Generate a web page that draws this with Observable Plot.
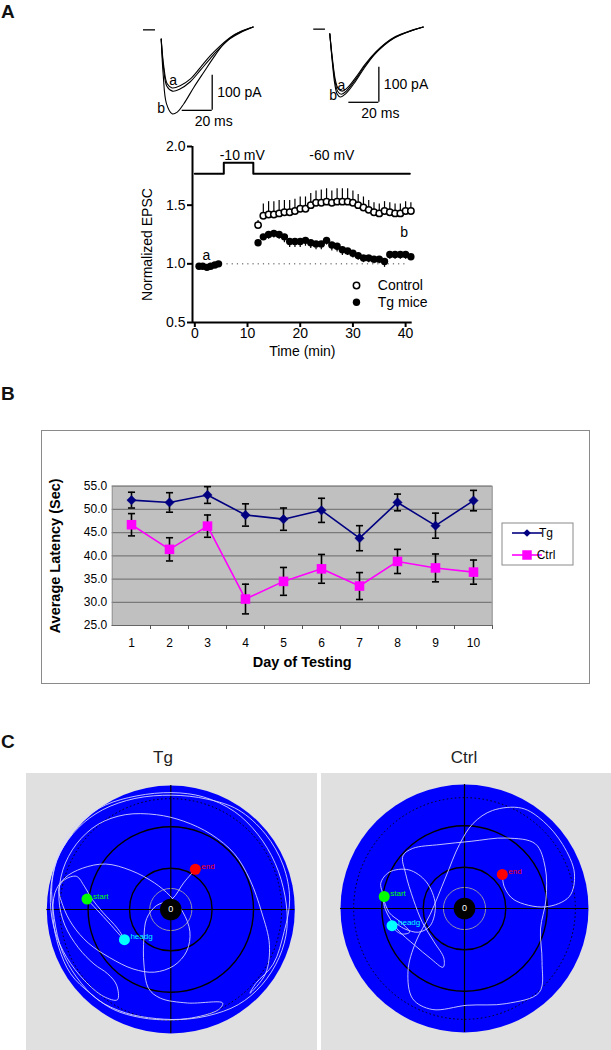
<!DOCTYPE html>
<html>
<head>
<meta charset="utf-8">
<script src="https://cdn.jsdelivr.net/npm/d3@7"></script>
<script src="https://cdn.jsdelivr.net/npm/@observablehq/plot@0.6"></script>
<style>
html,body{margin:0;padding:0;background:#fff;}
#root{position:relative;width:611px;height:1050px;overflow:hidden;font-family:"Liberation Sans",Arial,sans-serif;}
.plabel{position:absolute;font-weight:bold;font-size:19px;line-height:1;color:#111;}
.ptitle{position:absolute;font-size:17px;line-height:1;color:#222;transform:translateX(-50%);}
</style>
</head>
<body>
<div id="root">
  <div class="plabel" style="left:1px;top:2px">A</div>
  <div class="plabel" style="left:1px;top:384px">B</div>
  <div class="plabel" style="left:1px;top:732px">C</div>
  <div class="ptitle" style="left:163px;top:749px">Tg</div>
  <div class="ptitle" style="left:464px;top:749px">Ctrl</div>
</div>
<script>
// ================= DATA =================
// Panel A, example EPSC traces: [time (ms), current (pA)]
const ctrlTraceA  = [[0,-27],[1.8,-108],[4.0,-155],[7.3,-167],[12.9,-160],[19.5,-141],[26.2,-108],[32.9,-74],[39.5,-46],[46.2,-22],[52.9,-6],[61.3,7]];
const ctrlTraceA2 = [[0,-27],[1.6,-112],[3.8,-162],[7.5,-176],[12.5,-170],[19.2,-150],[26.0,-117],[32.7,-83],[39.3,-52],[46.0,-26],[52.7,-9],[61.3,7]];
const ctrlTraceB  = [[0,-27],[1.3,-127],[3.5,-212],[7.3,-241],[10.7,-236],[15.1,-212],[21.8,-165],[28.4,-122],[35.1,-79],[41.7,-41],[48.4,-17],[55.1,-3],[61.3,7]];
const tgTraceA  = [[0,-12],[1.8,-85],[3.8,-146],[5.6,-169],[8.3,-176],[11.6,-167],[17.1,-138],[23.8,-98],[30.5,-65],[37.1,-39],[43.8,-20],[52.7,-5],[62.3,7]];
const tgTraceA2 = [[0,-12],[1.7,-88],[3.6,-150],[5.3,-177],[7.7,-185],[11.0,-176],[16.5,-147],[23.2,-105],[29.9,-70],[36.5,-43],[43.2,-23],[52.1,-7],[62.3,7]];
const tgTraceB  = [[0,-12],[1.6,-89],[3.3,-155],[4.9,-184],[7.1,-193],[10.5,-184],[16.0,-155],[22.7,-112],[29.3,-74],[36.0,-46],[42.7,-25],[51.6,-8],[62.3,7]];
const scaleBarMs = 20;
const scaleBarPA = 100;

// Panel A, normalized EPSC time course
const baseTime  = [0.8,1.5,2.3,3.0,3.8,4.5];
const baseTg    = [0.98,0.98,0.97,0.98,0.99,1.00];
const baseTgSEM = [0.01,0.01,0.01,0.01,0.01,0.01];
const postTime  = [12,13,14,15,16,17,18,19,20,21,22,23,24,25,26,27,28,29,30,31,32,33,34,35,36,37,38,39,40,41];
const ctrlEPSC  = [1.33,1.41,1.42,1.42,1.43,1.44,1.44,1.45,1.47,1.47,1.50,1.52,1.52,1.53,1.52,1.53,1.53,1.53,1.52,1.50,1.48,1.46,1.44,1.43,1.45,1.44,1.43,1.43,1.45,1.45];
const ctrlSEM   = [0.04,0.10,0.11,0.11,0.11,0.10,0.10,0.10,0.10,0.10,0.10,0.10,0.11,0.11,0.10,0.11,0.11,0.11,0.10,0.09,0.09,0.08,0.08,0.08,0.08,0.08,0.08,0.08,0.08,0.07];
const tgEPSC    = [1.18,1.23,1.25,1.26,1.25,1.23,1.19,1.19,1.19,1.20,1.18,1.17,1.17,1.20,1.16,1.15,1.12,1.11,1.09,1.07,1.05,1.05,1.04,1.04,1.02,1.08,1.08,1.08,1.08,1.06];
const tgSEM     = [0.02,0.03,0.04,0.04,0.04,0.05,0.05,0.05,0.05,0.05,0.05,0.05,0.05,0.04,0.05,0.05,0.05,0.04,0.04,0.04,0.04,0.04,0.04,0.04,0.05,0.04,0.04,0.04,0.04,0.03];
const epscTicks = [0.5,1.0,1.5,2.0];
const timeTicks = [0,10,20,30,40];
const protocolT  = [0,5.5,11.1,40.8];
const protocolMV = [-60,-10,-60,-60];

// Panel B, water maze latency
const days = [1,2,3,4,5,6,7,8,9,10];
const tgLatency     = [52.0,51.5,53.1,48.8,47.9,49.8,43.8,51.5,46.5,51.9];
const tgLatencySE   = [1.7,2.1,1.8,2.4,2.4,2.6,2.7,1.8,2.7,2.2];
const ctrlLatency   = [46.7,41.4,46.4,30.7,34.5,37.2,33.5,38.8,37.4,36.5];
const ctrlLatencySE = [2.4,2.5,2.4,3.2,3.0,3.1,2.9,2.6,3.0,2.6];
const latencyTicks  = [25,30,35,40,45,50,55];

// Panel C, swim paths (tracking camera coordinates)
const tgPoolCenter = [437,732];
const tgStart = [222,700], tgHeadg = [318,825], tgEnd = [500,608];
const tgPath = [[222,700],[270,762],[318,825],[300,790],[262,740],[235,700],[215,660],[195,630],[165,640],[150,665],[160,720],[185,780],[225,835],[280,880],[340,915],[395,925],[445,905],[478,860],[486,800],[468,740],[435,690],[395,650],[335,612],[270,592],[210,605],[165,635],[140,680],[135,760],[150,850],[180,930],[230,990],[290,1040],[360,1065],[440,1072],[530,1060],[610,1025],[670,965],[715,880],[735,790],[730,690],[705,590],[660,500],[600,430],[520,385],[440,372],[350,382],[270,410],[205,460],[160,530],[135,620],[128,710],[140,800],[170,880],[215,950],[265,1000],[300,1010],[298,965],[275,930],[240,900],[200,850],[165,780],[150,700],[160,610],[195,530],[250,470],[320,440],[400,440],[470,460],[540,500],[600,560],[640,640],[670,740],[690,840],[680,930],[640,990],[655,960],[700,900],[728,800],[742,700],[725,595],[680,500],[610,425],[530,392],[440,380],[345,390],[262,425],[200,480],[152,560],[132,650],[138,760],[158,860],[195,940],[250,1010],[320,1050],[400,1068],[480,1068],[560,1040],[570,1020],[480,1020],[410,1005],[380,975],[368,900],[368,820],[375,760],[400,720],[440,700],[470,650],[500,608]];
const ctrlPoolCenter = [1193,727];
const ctrlStart = [987,690], ctrlHeadg = [1007,780], ctrlEnd = [1290,622];
const ctrlPath = [[987,690],[978,650],[1000,615],[1050,608],[1095,645],[1118,715],[1105,780],[1075,800],[1040,790],[1010,770],[1007,780],[1030,805],[1052,800],[1030,770],[1000,740],[985,700],[990,730],[1020,790],[1065,840],[1105,880],[1138,908],[1140,880],[1115,830],[1085,770],[1062,700],[1042,620],[1035,565],[1060,542],[1130,530],[1210,520],[1300,510],[1375,528],[1400,600],[1402,700],[1388,790],[1392,890],[1385,985],[1300,1020],[1200,1025],[1110,1038],[1060,1005],[1048,920],[1068,830],[1105,745],[1145,630],[1180,530],[1215,465],[1265,425],[1340,418],[1395,458],[1445,530],[1475,618],[1462,690],[1400,722],[1320,700],[1295,660],[1290,622]];
const poolDotted = 0.894, poolRings = [0.667,0.333], poolGrayRing = 0.17, poolCenterDisk = 0.087;

// ================= DRAWING =================
const root = document.getElementById("root");
const FONT = "Liberation Sans, Arial, sans-serif";
function place(node, left, top) {
  node.style.position = "absolute";
  node.style.left = left + "px";
  node.style.top = top + "px";
  root.appendChild(node);
  return node;
}

// ---- traces ----
function tracePlot(traces, o) {
  return Plot.plot({
    width: 150, height: 130, margin: 0,
    x: {domain: [-20, 80], range: [o.x0 - 30, o.x0 + 120], axis: null},
    y: {domain: [50, -300], range: [11.5, 134], axis: null},
    style: {fontFamily: FONT, fontSize: "14px", background: "transparent", overflow: "visible", color: "black"},
    marks: [
      Plot.ruleY([0], {x1: o.base[0], x2: o.base[1], y: o.baseY, stroke: "black", strokeWidth: 1.3}),
      ...traces.map(tr => Plot.line(tr, {x: d => d[0], y: d => d[1], stroke: "black", strokeWidth: 1.1, curve: "catmull-rom"})),
      Plot.ruleX([o.bar], {x: d => d[0], y1: d => d[1], y2: d => d[1] + scaleBarPA, stroke: "black", strokeWidth: 1.3}),
      Plot.ruleY([o.bar], {y: d => d[1], x1: d => d[0] - scaleBarMs, x2: d => d[0], stroke: "black", strokeWidth: 1.3}),
      Plot.text([o.bar], {x: d => d[0], y: d => d[1] + scaleBarPA / 2, text: () => scaleBarPA + " pA", textAnchor: "start", dx: 5, fill: "black"}),
      Plot.text([o.bar], {x: d => d[0] + 1, y: d => d[1], text: () => scaleBarMs + " ms", dy: 11, fill: "black"}),
      Plot.text(o.labels, {x: d => d[0], y: d => d[1], text: d => d[2], fill: "black"})
    ]
  });
}
place(tracePlot([ctrlTraceA, ctrlTraceA2, ctrlTraceB], {
  x0: 20.7, base: [-11.8, -3.8], baseY: -1, bar: [34, -231],
  labels: [[8, -146, "a"], [0, -226, "b"]]
}), 140, 0);
place(tracePlot([tgTraceA, tgTraceA2, tgTraceB], {
  x0: 19.3, base: [-10.7, -2.9], baseY: 1, bar: [32.7, -208],
  labels: [[7.8, -160, "a"], [2.3, -189, "b"]]
}), 310, 0);

// ---- EPSC time course ----
const ctrlData = postTime.map((t, i) => ({t, v: ctrlEPSC[i], e: ctrlSEM[i]}));
const tgData = baseTime.map((t, i) => ({t, v: baseTg[i], e: baseTgSEM[i]}))
  .concat(postTime.map((t, i) => ({t, v: tgEPSC[i], e: tgSEM[i]})));
const protocol = protocolT.map((t, i) => ({t, mV: protocolMV[i]}));
const levelY = mV => mV === -10 ? 1.861 : 1.767;
const xDomA = [-0.44, 41.25], yDomA = [0.5, 2.0];
place(Plot.plot({
  width: 300, height: 240,
  marginLeft: 62, marginRight: 18.3, marginTop: 16, marginBottom: 48,
  x: {domain: xDomA}, y: {domain: yDomA},
  style: {fontFamily: FONT, fontSize: "14px", background: "transparent", overflow: "visible", color: "black"},
  marks: [
    Plot.ruleY([1.0], {x1: 6.1, x2: 40.6, stroke: "#444", strokeWidth: 1, strokeDasharray: "1.2,4"}),
    Plot.line(protocol, {x: "t", y: d => levelY(d.mV), curve: "step-after", stroke: "black", strokeWidth: 2}),
    Plot.text([{t: 9.0, mV: -10}, {t: 26, mV: -60}], {x: "t", y: () => 1.923, text: d => d.mV + " mV", fill: "black"}),
    Plot.ruleX(ctrlData, {x: "t", y1: "v", y2: d => d.v + d.e, stroke: "black", strokeWidth: 1.2}),
    Plot.ruleX(tgData, {x: "t", y1: d => d.v - d.e, y2: "v", stroke: "black", strokeWidth: 1.2}),
    Plot.dot(tgData, {x: "t", y: "v", r: 3.7, fill: "black"}),
    Plot.dot(ctrlData, {x: "t", y: "v", r: 3.2, fill: "white", stroke: "black", strokeWidth: 1.5}),
    Plot.text([[2.2, 1.07, "a"], [39.7, 1.27, "b"]], {x: d => d[0], y: d => d[1], text: d => d[2], fill: "black"}),
    Plot.ruleX([xDomA[0]], {stroke: "black", strokeWidth: 2}),
    Plot.ruleY([yDomA[0]], {stroke: "black", strokeWidth: 2}),
    Plot.axisY({ticks: epscTicks, tickFormat: d3.format(".1f"), tickSize: 5, tickPadding: 2, strokeWidth: 2, label: null}),
    Plot.axisX({ticks: timeTicks, tickSize: 5, tickPadding: 1, strokeWidth: 2, label: null}),
    Plot.text(["Normalized EPSC"], {frameAnchor: "left", textAnchor: "middle", lineAnchor: "middle", rotate: -90, dx: -45, dy: 10, fill: "black"}),
    Plot.text(["Time (min)"], {frameAnchor: "bottom", textAnchor: "middle", lineAnchor: "middle", dy: 29, fill: "black"}),
    Plot.dot(["Control"], {frameAnchor: "bottom-right", dx: -55.7, dy: -37, r: 3.2, fill: "white", stroke: "black", strokeWidth: 1.5}),
    Plot.text(["Control"], {frameAnchor: "bottom-right", dx: -34.4, dy: -37, textAnchor: "start", lineAnchor: "middle", fill: "black"}),
    Plot.dot(["Tg mice"], {frameAnchor: "bottom-right", dx: -55.7, dy: -20.3, r: 3.7, fill: "black"}),
    Plot.text(["Tg mice"], {frameAnchor: "bottom-right", dx: -34.4, dy: -20.3, textAnchor: "start", lineAnchor: "middle", fill: "black"})
  ]
}), 130, 130);

// ---- Panel B ----
const tgB = days.map((d, i) => ({day: d, m: tgLatency[i], e: tgLatencySE[i]}));
const ctrlB = days.map((d, i) => ({day: d, m: ctrlLatency[i], e: ctrlLatencySE[i]}));
const cap = {draw(ctx, size) { const w = Math.sqrt(size) / 2; ctx.moveTo(-w, 0); ctx.lineTo(w, 0); }};
const boxB = document.createElement("div");
boxB.style.width = "547px"; boxB.style.height = "252px"; boxB.style.border = "1px solid #8a8a8a";
place(boxB, 41, 430);
const svgB = Plot.plot({
  width: 547, height: 252,
  marginLeft: 69.7, marginRight: 97.3, marginTop: 54.7, marginBottom: 58,
  x: {type: "point", domain: days, padding: 0.5},
  y: {domain: [25, 55]},
  style: {fontFamily: FONT, fontSize: "12px", background: "transparent", overflow: "visible", color: "black"},
  marks: [
    Plot.frame({fill: "#c0c0c0"}),
    Plot.ruleY(latencyTicks, {stroke: "#7a7a7a", strokeWidth: 1.2}),
    Plot.frame({stroke: "#8a8a8a"}),
    Plot.ruleY([25], {stroke: "#666", strokeWidth: 1.2}),
    Plot.axisY({ticks: latencyTicks, tickFormat: d3.format(".1f"), tickSize: 0, tickPadding: 5, label: null}),
    Plot.axisX({ticks: days, tickSize: 0, tickPadding: 13, label: null}),
    Plot.axisX({ticks: days, tickSize: 4, tickPadding: 0, dx: 19, tickFormat: () => "", label: null, stroke: "#555"}),
    Plot.line(tgB, {x: "day", y: "m", stroke: "#000080", strokeWidth: 1.6}),
    Plot.line(ctrlB, {x: "day", y: "m", stroke: "#ff00ff", strokeWidth: 1.6}),
    Plot.ruleX(tgB.concat(ctrlB), {x: "day", y1: d => d.m - d.e, y2: d => d.m + d.e, stroke: "black", strokeWidth: 1.6}),
    Plot.dot(tgB.concat(ctrlB), {x: "day", y: d => d.m + d.e, symbol: cap, r: 4, stroke: "black", strokeWidth: 1.6}),
    Plot.dot(tgB.concat(ctrlB), {x: "day", y: d => d.m - d.e, symbol: cap, r: 4, stroke: "black", strokeWidth: 1.6}),
    Plot.dot(tgB, {x: "day", y: "m", symbol: "diamond2", r: 4.2, fill: "#000080", stroke: "#000080", strokeWidth: 0.5}),
    Plot.dot(ctrlB, {x: "day", y: "m", symbol: "square", r: 5.4, fill: "#ff00ff"}),
    Plot.text(["Average Latency (Sec)"], {frameAnchor: "left", textAnchor: "middle", lineAnchor: "middle", rotate: -90, dx: -57, fontWeight: "bold", fontSize: 14.5, fill: "black"}),
    Plot.text(["Day of Testing"], {frameAnchor: "bottom", textAnchor: "middle", lineAnchor: "middle", dy: 37, fontWeight: "bold", fontSize: 14.5, fill: "black"})
  ]
});
boxB.appendChild(svgB);
// legend
const lg = d3.select(svgB).append("g").attr("transform", "translate(460,92)");
lg.append("rect").attr("width", 71).attr("height", 42).attr("fill", "white").attr("stroke", "#8a8a8a");
[["Tg", "#000080", d3.symbolDiamond2, 10, 38], ["Ctrl", "#ff00ff", d3.symbolSquare, 32, 90]].forEach(([name, col, sym, y, size]) => {
  lg.append("line").attr("x1", 10).attr("x2", 40).attr("y1", y).attr("y2", y).attr("stroke", col).attr("stroke-width", 1.6);
  lg.append("path").attr("d", d3.symbol(sym, size)()).attr("transform", `translate(25,${y})`).attr("fill", col);
  lg.append("text").attr("x", 44).attr("y", y).attr("dy", "0.35em").attr("font-size", 12).attr("font-family", FONT).text(name);
});

// ---- Panel C ----
function poolPlot(p) {
  const R = 124, camRx = R * 2.566, camRy = R * 3.08;
  const c = p.center;
  const ctr = [c];
  const X = d => d[0], Y = d => d[1];
  return Plot.plot({
    width: p.w, height: 277, margin: 0,
    x: {domain: [c[0] - camRx, c[0] + camRx], range: [p.cx - R, p.cx + R], axis: null},
    y: {domain: [c[1] - camRy, c[1] + camRy], range: [p.cy - R, p.cy + R], axis: null},
    style: {fontFamily: FONT, fontSize: "9px", background: "#e0e0e0", overflow: "hidden"},
    marks: [
      Plot.dot(ctr, {x: X, y: Y, r: R, fill: "#0000ff"}),
      Plot.dot(ctr, {x: X, y: Y, r: R * poolDotted, fill: "none", stroke: "black", strokeWidth: 1, strokeDasharray: "1.5,2.5"}),
      ...poolRings.map(f => Plot.dot(ctr, {x: X, y: Y, r: R * f, fill: "none", stroke: "black", strokeWidth: 1.4})),
      Plot.dot(ctr, {x: X, y: Y, r: R * poolGrayRing, fill: "none", stroke: "#9090b0", strokeWidth: 1}),
      Plot.ruleX(ctr, {x: X, y1: d => d[1] - camRy, y2: d => d[1] + camRy, stroke: "black", strokeWidth: 1.2}),
      Plot.ruleY(ctr, {y: Y, x1: d => d[0] - camRx, x2: d => d[0] + camRx, stroke: "black", strokeWidth: 1.2}),
      Plot.line(p.path, {x: X, y: Y, curve: "catmull-rom", stroke: "#d4d4ff", strokeWidth: 0.9}),
      Plot.dot(ctr, {x: X, y: Y, r: R * poolCenterDisk, fill: "black"}),
      Plot.text(ctr, {x: X, y: Y, text: () => "0", fill: "white", fontSize: 9}),
      Plot.dot([p.start], {x: X, y: Y, r: 5.5, fill: "#00ff00"}),
      Plot.text([p.start], {x: X, y: Y, text: () => "start", dx: 6, dy: -3, textAnchor: "start", fill: "#00ff00", fontSize: 8}),
      Plot.dot([p.headg], {x: X, y: Y, r: 5.5, fill: "#00ffff"}),
      Plot.text([p.headg], {x: X, y: Y, text: () => "headg", dx: 6, dy: -3, textAnchor: "start", fill: "#00ffff", fontSize: 8}),
      Plot.dot([p.end], {x: X, y: Y, r: 5.5, fill: "#ff0000"}),
      Plot.text([p.end], {x: X, y: Y, text: () => "end", dx: 6, dy: -3, textAnchor: "start", fill: "#ff0000", fontSize: 8})
    ]
  });
}
place(poolPlot({w: 291, cx: 144.3, cy: 136, center: tgPoolCenter, path: tgPath, start: tgStart, headg: tgHeadg, end: tgEnd}), 26, 773);
place(poolPlot({w: 290, cx: 143, cy: 135, center: ctrlPoolCenter, path: ctrlPath, start: ctrlStart, headg: ctrlHeadg, end: ctrlEnd}), 321, 773);
</script>
</body>
</html>
